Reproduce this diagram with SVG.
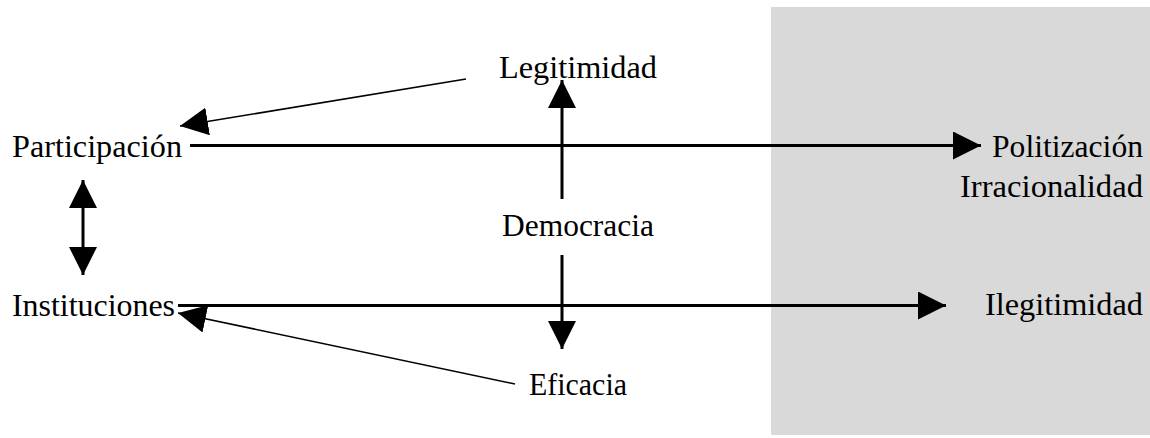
<svg xmlns="http://www.w3.org/2000/svg" width="1150" height="438" viewBox="0 0 1150 438">
<style>
.t{font-family:"Liberation Serif","Times New Roman",serif;font-size:31px;fill:#000}
.thick{stroke:#000;stroke-width:3;fill:none}
.thin{stroke:#000;stroke-width:1.6;fill:none}
</style>
<defs>
<marker id="ah" markerUnits="userSpaceOnUse" markerWidth="28" markerHeight="28" viewBox="0 0 27 27" refX="27" refY="13.5" orient="auto-start-reverse">
<path d="M0,0 L27,13.5 L0,27 z" fill="#000"/>
</marker>
</defs>
<rect id="zone" x="771" y="7" width="379" height="428" fill="#d9d9d9"/>
<g id="connectors">
<line class="thick" x1="190" y1="145.5" x2="981" y2="145.5" marker-end="url(#ah)"/>
<line class="thick" x1="178" y1="305.5" x2="946" y2="305.5" marker-end="url(#ah)"/>
<line class="thick" x1="562" y1="199" x2="562" y2="80" marker-end="url(#ah)"/>
<line class="thick" x1="562" y1="255" x2="562" y2="349" marker-end="url(#ah)"/>
<line class="thin" x1="466" y1="79" x2="180" y2="126" marker-end="url(#ah)"/>
<line class="thin" x1="515" y1="384" x2="178" y2="313" marker-end="url(#ah)"/>
<line class="thick" x1="83" y1="180" x2="83" y2="275" marker-start="url(#ah)" marker-end="url(#ah)"/>
</g>
<g id="participacion"><text class="t" x="12" y="157" textLength="170" lengthAdjust="spacingAndGlyphs">Participación</text></g>
<g id="instituciones"><text class="t" x="12" y="316" textLength="163" lengthAdjust="spacingAndGlyphs">Instituciones</text></g>
<g id="legitimidad"><text class="t" x="499" y="78" textLength="158" lengthAdjust="spacingAndGlyphs">Legitimidad</text></g>
<g id="democracia"><text class="t" x="502" y="236" textLength="152" lengthAdjust="spacingAndGlyphs">Democracia</text></g>
<g id="eficacia"><text class="t" x="529" y="395" textLength="98" lengthAdjust="spacingAndGlyphs">Eficacia</text></g>
<g id="politizacion"><text class="t" x="992" y="157" textLength="151" lengthAdjust="spacingAndGlyphs">Politización</text><text class="t" x="960" y="197" textLength="183" lengthAdjust="spacingAndGlyphs">Irracionalidad</text></g>
<g id="ilegitimidad"><text class="t" x="985" y="315" textLength="158" lengthAdjust="spacingAndGlyphs">Ilegitimidad</text></g>
</svg>
